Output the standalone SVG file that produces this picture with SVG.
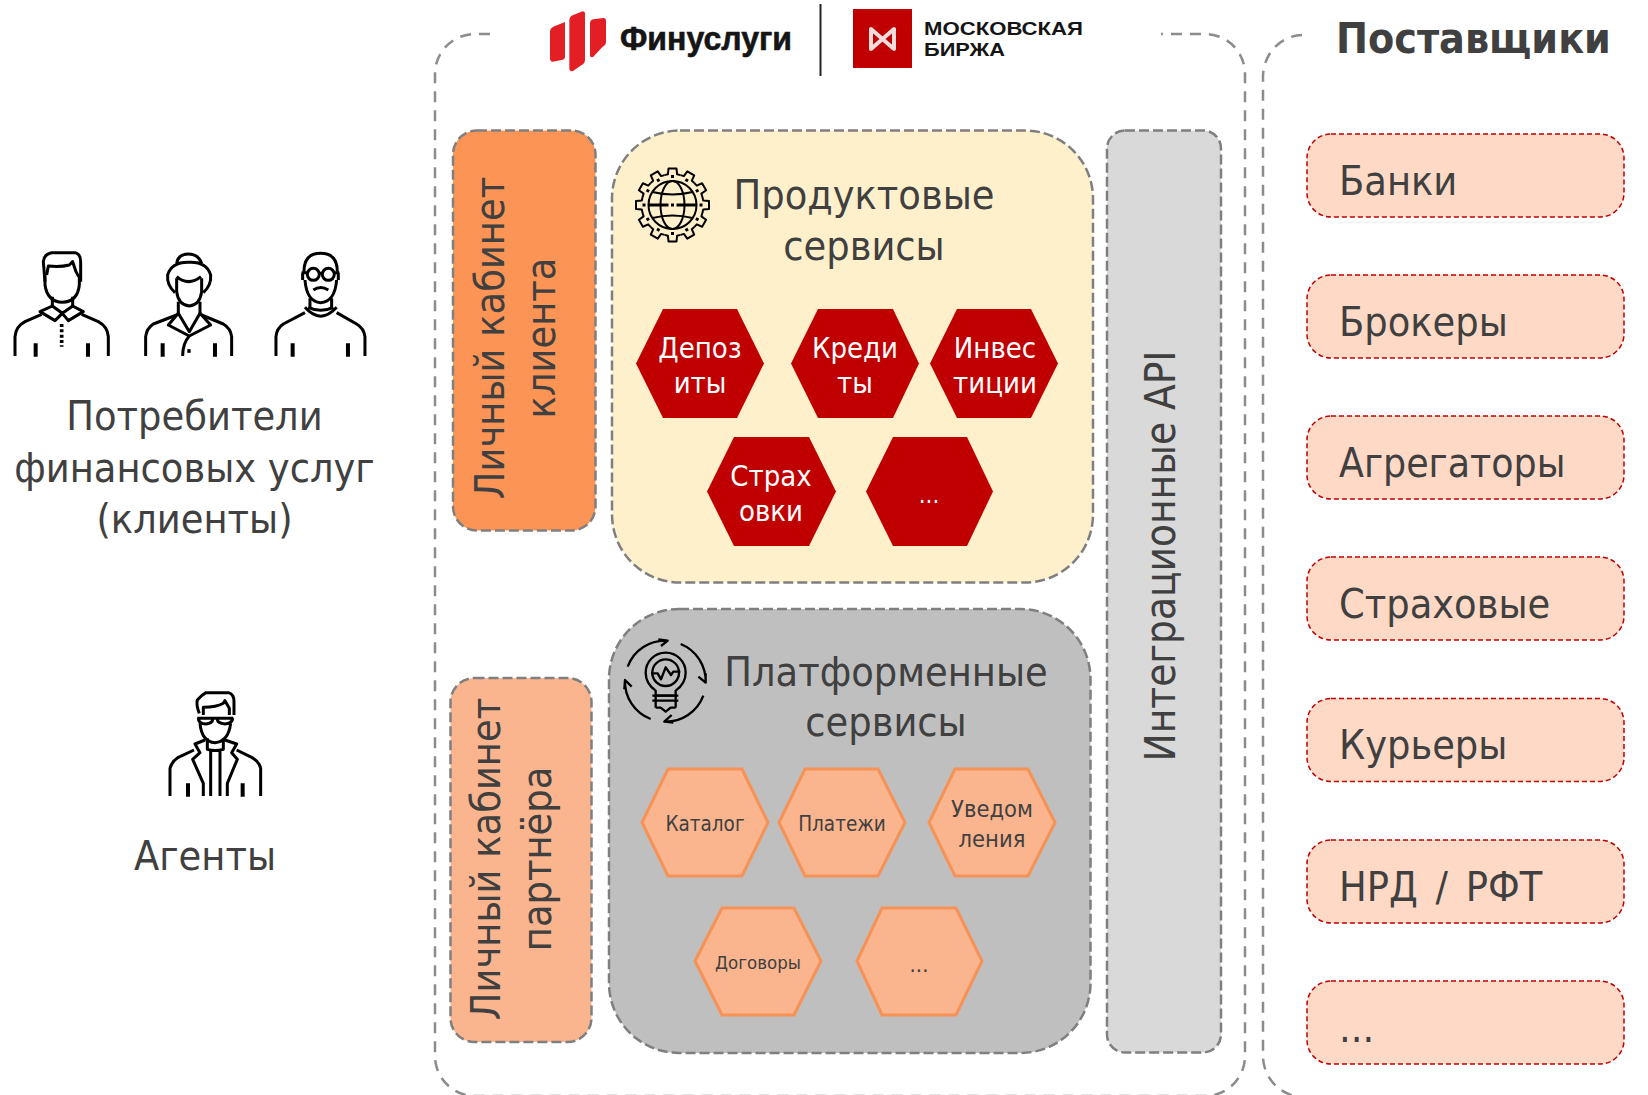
<svg xmlns="http://www.w3.org/2000/svg" xmlns:xlink="http://www.w3.org/1999/xlink" width="1648" height="1095" viewBox="0 0 1648 1095">
<style>
text{font-family:"DejaVu Sans","Liberation Sans",sans-serif;font-stretch:condensed;fill:#404040}
.big{font-size:41px}
.m{text-anchor:middle}
.w{fill:#fff;font-size:29px;text-anchor:middle}
.s{font-size:20.500px;text-anchor:middle}
.outer{fill:none;stroke:#8c8c8c;stroke-width:2.5;stroke-dasharray:11 8}
.inner{stroke:#7f7f7f;stroke-width:2.5;stroke-dasharray:10 4}
.rh{fill:#C00000}
.oh{fill:#FAB58E;stroke:#F79256;stroke-width:3}
.sup{fill:#FDD9C6;stroke:#C00000;stroke-width:1.5;stroke-dasharray:5 3}
.ic{fill:none;stroke:#000;stroke-width:9;stroke-linejoin:round}
.ic2{fill:none;stroke:#000;stroke-width:2;stroke-linejoin:round}
.logo{font-family:"Liberation Sans",sans-serif;font-weight:700;fill:#151515;font-stretch:normal}
</style>
<defs>
<path id="tooth" d="M-8,-29.9 L-4.6,-30.7 L-4,-36.5 L4,-36.5 L4.6,-30.7 L8,-29.9"/>
<rect id="gdot" x="-1.5" y="-30" width="3" height="3" fill="#000" stroke="none"/>
</defs>
<rect width="1648" height="1095" fill="#fff"/>

<g id="clients">
<g id="person1" class="ic" transform="translate(0,230) scale(.3333)">
<path d="M135,155 L130,95 Q132,72 155,68 H225 Q242,72 242,95 V155"/>
<path d="M140,135 L145,108 Q180,112 208,105 L218,95 L228,125 L236,140"/>
<path d="M135,135 V165 Q142,215 187,217 Q233,215 238,165 V135"/>
<path d="M157,200 V232 M218,200 V232"/>
<path d="M120,245 L157,228 L187,250 L218,228 L250,245 L205,272 L187,250 L165,272 Z"/>
<path d="M45,378 V320 Q47,290 75,275 L125,253 M325,378 V320 Q323,290 295,275 L245,253"/>
<path d="M107,340 V380 M264,340 V380" stroke-width="12"/>
<path d="M185,282 V350" stroke-width="11" stroke-dasharray="9 7"/>
</g>
<g id="person2" class="ic" transform="translate(0,230) scale(.3333)">
<path d="M530,100 Q535,72 565,72 Q595,72 605,100"/>
<path d="M525,188 Q500,165 503,135 Q515,95 568,97 Q620,95 632,135 Q635,165 610,188"/>
<path d="M530,140 Q565,170 603,140"/>
<path d="M530,145 V185 Q535,225 568,228 Q600,225 605,185 V145"/>
<path d="M535,215 V258 M600,215 V258"/>
<path d="M535,250 L505,285 L568,318 Q548,340 548,378 M600,250 L632,285 L568,318 M535,250 L568,305 L600,250"/>
<path d="M437,378 V320 Q440,295 460,282 L530,255 M695,378 V320 Q692,295 670,282 L605,255"/>
<path d="M488,340 V380 M645,340 V380" stroke-width="12"/>
<path d="M562,363 H572" stroke-width="11"/>
</g>
<g id="person3" class="ic" transform="translate(0,230) scale(.3333)">
<path d="M912,125 Q912,70 962,70 Q1012,70 1012,125"/>
<circle cx="940" cy="133" r="18"/><circle cx="985" cy="133" r="18"/>
<path d="M958,130 H967 M905,128 H922 M1003,128 H1018 M908,128 V150 M1015,128 V150"/>
<path d="M915,150 Q920,215 962,218 Q1005,215 1010,150"/>
<path d="M940,180 Q962,165 985,180"/>
<path d="M930,205 V235 M995,205 V235"/>
<path d="M915,232 Q962,285 1010,232 M925,232 Q962,250 1000,232"/>
<path d="M828,378 V320 Q830,295 850,282 L915,248 M1095,378 V320 Q1092,295 1070,282 L1010,248"/>
<path d="M878,340 V380 M1044,340 V380" stroke-width="12"/>
</g>
<text class="big m" x="194.5" y="430">Потребители</text>
<text class="big m" x="194.5" y="482">финансовых услуг</text>
<text class="big m" x="194.5" y="533">(клиенты)</text>
</g>

<g id="agents">
<g class="ic" transform="translate(120,670) scale(.3333)">
<path d="M238,130 Q228,105 232,90 Q245,75 258,68 H325 Q342,72 342,95 V135"/>
<path d="M250,135 V112 Q290,112 310,100 L315,92 L328,115 V135"/>
<path d="M232,145 H340 M235,145 Q235,162 258,162 Q278,160 278,148 M292,148 Q292,160 315,162 Q338,160 338,145"/>
<path d="M240,160 Q245,215 285,218 Q325,215 332,160"/>
<path d="M150,378 V295 Q155,275 175,262 L222,240 M422,378 V295 Q418,275 395,262 L350,240"/>
<path d="M255,210 L225,222 L240,248 L218,268 L250,340 V378 M315,210 L350,222 L335,248 L352,268 L322,340 V378"/>
<path d="M272,240 V378 M300,240 V378 M262,205 V238 Q285,245 310,238 V205"/>
<path d="M204,340 V380 M368,340 V380" stroke-width="12"/>
</g>
<text class="big m" x="205" y="870">Агенты</text>
</g>

<path id="platform-frame" class="outer" d="M490,34 H475 A40,40 0 0 0 435,74 V1056 A40,40 0 0 0 475,1096 H1205 A40,40 0 0 0 1245,1056 V74 A40,40 0 0 0 1205,34 H1161"/>
<path id="suppliers-frame" class="outer" d="M1302,35 A40,42 0 0 0 1263,77 V1056 A41,41 0 0 0 1304,1097 H1648"/>

<g id="logos">
<g transform="translate(540,0) scale(.3333)" fill="#E31E24">
<path d="M30,95 Q30,85 40,80 L75,66 V170 Q75,178 65,180 L38,185 Q30,185 30,175 Z"/>
<path d="M88,62 Q88,50 98,46 L128,34 Q135,34 135,42 V180 Q135,190 125,195 L98,214 Q88,215 88,205 Z"/>
<path d="M150,70 Q150,60 160,58 L190,54 Q198,54 198,62 V125 Q198,135 188,140 L160,170 Q150,175 150,165 Z"/>
</g>
<text class="logo" x="620" y="50" font-size="34" textLength="172" lengthAdjust="spacingAndGlyphs" stroke="#151515" stroke-width=".6">Финуслуги</text>
<path d="M820.5,4 V76" stroke="#222" stroke-width="2"/>
<rect x="853" y="9" width="59" height="59" fill="#C00000"/>
<path d="M871,29 V49 L894,29 V49 Z" fill="none" stroke="#F2DCDC" stroke-width="4" stroke-linejoin="round"/>
<text class="logo" x="924" y="35" font-size="18" textLength="159" lengthAdjust="spacingAndGlyphs">МОСКОВСКАЯ</text>
<text class="logo" x="924" y="56" font-size="19" textLength="81" lengthAdjust="spacingAndGlyphs">БИРЖА</text>
</g>

<g id="lk-client">
<rect class="inner" x="453" y="130.500" width="142.500" height="400" rx="24" fill="#FB9455"/>
<text class="big m" transform="translate(504,338) rotate(-90)">Личный кабинет</text>
<text class="big m" transform="translate(555,338) rotate(-90)">клиента</text>
</g>
<g id="lk-partner">
<rect class="inner" x="450.500" y="678" width="141" height="364" rx="24" fill="#FAB58E"/>
<text class="big m" transform="translate(500,859) rotate(-90)">Личный кабинет</text>
<text class="big m" transform="translate(551,859) rotate(-90)">партнёра</text>
</g>

<g id="product-services">
<rect class="inner" x="612" y="130.500" width="481" height="452" rx="68" fill="#FFF0CC"/>
<g id="globe-icon" transform="translate(672.500,205)">
<g class="ic2" stroke-width="2">
<use xlink:href="#tooth"/><use xlink:href="#tooth" transform="rotate(30)"/><use xlink:href="#tooth" transform="rotate(60)"/><use xlink:href="#tooth" transform="rotate(90)"/><use xlink:href="#tooth" transform="rotate(120)"/><use xlink:href="#tooth" transform="rotate(150)"/><use xlink:href="#tooth" transform="rotate(180)"/><use xlink:href="#tooth" transform="rotate(210)"/><use xlink:href="#tooth" transform="rotate(240)"/><use xlink:href="#tooth" transform="rotate(270)"/><use xlink:href="#tooth" transform="rotate(300)"/><use xlink:href="#tooth" transform="rotate(330)"/>
<circle r="24"/><ellipse rx="12" ry="24"/>
<path d="M-20,-13 Q0,-8 20,-13 M-20,13 Q0,8 20,13"/>
<path d="M-24,0 H-4 M4,0 H24" stroke-width="3"/>
</g>
<use xlink:href="#gdot"/><use xlink:href="#gdot" transform="rotate(30)"/><use xlink:href="#gdot" transform="rotate(60)"/><use xlink:href="#gdot" transform="rotate(90)"/><use xlink:href="#gdot" transform="rotate(120)"/><use xlink:href="#gdot" transform="rotate(150)"/><use xlink:href="#gdot" transform="rotate(180)"/><use xlink:href="#gdot" transform="rotate(210)"/><use xlink:href="#gdot" transform="rotate(240)"/><use xlink:href="#gdot" transform="rotate(270)"/><use xlink:href="#gdot" transform="rotate(300)"/><use xlink:href="#gdot" transform="rotate(330)"/>
<rect x="-1.500" y="-1.500" width="3" height="3" fill="#000"/>
</g>
<text class="big m" x="864" y="209">Продуктовые</text>
<text class="big m" x="864" y="260">сервисы</text>
</g>
<g id="h-deposits"><polygon class="rh" points="636,363.500 663,309 737,309 764,363.500 737,418 663,418"/><text class="w" x="700" y="358">Депоз</text><text class="w" x="700" y="393">иты</text></g>
<g id="h-credits"><polygon class="rh" points="791,363.500 818,309 893,309 919,363.500 893,418 818,418"/><text class="w" x="855" y="358">Креди</text><text class="w" x="855" y="393">ты</text></g>
<g id="h-invest"><polygon class="rh" points="930,363.500 957,309 1031,309 1058,363.500 1031,418 957,418"/><text class="w" x="995" y="358">Инвес</text><text class="w" x="995" y="393">тиции</text></g>
<g id="h-insurance"><polygon class="rh" points="707,491.500 734,437 809,437 836,491.500 809,546 734,546"/><text class="w" x="771" y="486">Страх</text><text class="w" x="771" y="521">овки</text></g>
<g id="h-more1"><polygon class="rh" points="866,491.500 893,437 967,437 993,491.500 967,546 893,546"/><text class="w" x="929" y="503" style="font-size:24px">...</text></g>

<g id="platform-services">
<rect class="inner" x="609" y="609" width="481.500" height="444" rx="70" fill="#BFBFBF"/>
<g id="bulb-icon" class="ic" style="stroke-width:7" transform="translate(615,630) scale(.3333)">
<path d="M38,110 A120,120 0 0 1 158,32 M130,28 L158,32 L138,48"/>
<path d="M197,42 A120,120 0 0 1 272,158 M272,130 L272,158 L250,140"/>
<path d="M265,197 A120,120 0 0 1 148,275 M170,255 L148,275 L175,278"/>
<path d="M107,267 A120,120 0 0 1 30,150 M28,178 L30,150 L50,170"/>
<path d="M122,182 Q92,160 92,128 A60,60 0 0 1 212,128 Q212,160 182,182 V197 H122 Z"/>
<circle cx="152" cy="128" r="40"/>
<path d="M108,130 H128 L138,148 L152,112 L168,135 L175,125 H196"/>
<path d="M112,197 H190 M112,212 H190 M122,197 V233 M182,197 V233 M122,233 H137 L152,245 L167,233 H182"/>
</g>
<text class="big m" x="886" y="686">Платформенные</text>
<text class="big m" x="886" y="736">сервисы</text>
</g>
<g id="h-catalog"><polygon class="oh" points="642,822.500 668,769 742,769 768,822.500 742,876 668,876"/><text class="s" x="705" y="831">Каталог</text></g>
<g id="h-payments"><polygon class="oh" points="779,822.500 805,769 878,769 905,822.500 878,876 805,876"/><text class="s" x="842" y="831">Платежи</text></g>
<g id="h-notify"><polygon class="oh" points="929,822.500 955,769 1028,769 1055,822.500 1028,876 955,876"/><text class="s" x="992" y="817" style="font-size:23.500px">Уведом</text><text class="s" x="992" y="847" style="font-size:23.500px">ления</text></g>
<g id="h-contracts"><polygon class="oh" points="695,961 722,908 794,908 821,961 794,1015 722,1015"/><text class="s" x="758" y="969" style="font-size:18.500px">Договоры</text></g>
<g id="h-more2"><polygon class="oh" points="857,961 882,908 956,908 982,961 956,1015 882,1015"/><text class="s" x="919" y="972" style="font-size:22px">...</text></g>

<g id="integration-api">
<rect class="inner" x="1107" y="130.500" width="114" height="922" rx="18" fill="#D9D9D9"/>
<text class="m" style="font-size:41.800px" transform="translate(1175,556) rotate(-90)">Интеграционные API</text>
</g>

<g id="suppliers">
<text x="1336" y="53" style="font-size:42.500px;font-weight:700">Поставщики</text>
<g id="s-banks"><rect class="sup" x="1307" y="134" width="317" height="83" rx="24"/><text class="big" x="1339" y="195">Банки</text></g>
<g id="s-brokers"><rect class="sup" x="1307" y="275" width="317" height="83" rx="24"/><text class="big" x="1339" y="336">Брокеры</text></g>
<g id="s-aggr"><rect class="sup" x="1307" y="416" width="317" height="83" rx="24"/><text class="big" x="1339" y="477" style="font-size:40.500px">Агрегаторы</text></g>
<g id="s-insur"><rect class="sup" x="1307" y="557" width="317" height="83" rx="24"/><text class="big" x="1339" y="618">Страховые</text></g>
<g id="s-couriers"><rect class="sup" x="1307" y="698.500" width="317" height="83" rx="24"/><text class="big" x="1339" y="759">Курьеры</text></g>
<g id="s-nrd"><rect class="sup" x="1307" y="840" width="317" height="83" rx="24"/><text class="big" x="1339" y="901" style="word-spacing:6px">НРД / РФТ</text></g>
<g id="s-more"><rect class="sup" x="1307" y="981" width="317" height="83" rx="24"/><text class="big" x="1339" y="1042">...</text></g>
</g>
</svg>
